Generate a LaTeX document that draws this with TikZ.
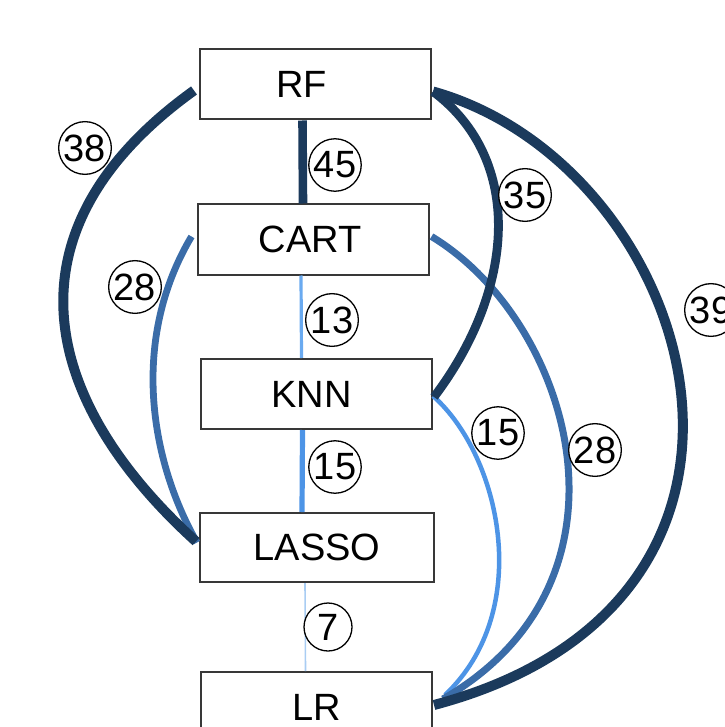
\documentclass[tikz,border=0pt]{standalone}
\usepackage{fontspec}
\setmainfont{Liberation Sans}
\definecolor{navy}{HTML}{1B3A5C}
\definecolor{midblue}{HTML}{3A6CA8}
\definecolor{skyblue}{HTML}{4D94E6}
\definecolor{paleblue}{HTML}{6AAAF0}
\definecolor{faintblue}{HTML}{A9CDF3}
\begin{document}
\begin{tikzpicture}[x=1pt,y=-1pt,
  model/.style={draw=black!78, line width=2pt, fill=white,
    minimum width=231pt, minimum height=70pt, inner sep=0pt,
    font=\fontsize{38}{40}\selectfont},
  weight/.style={draw=black, line width=1.3pt, circle, fill=white,
    inner sep=1pt, minimum size=48pt, font=\fontsize{38}{40}\selectfont},
  link/.style={line cap=butt}
]
\useasboundingbox (0,0) rectangle (724,727);

% model boxes (trailing space nudges a label left of the box centre)
\node[model] (RF)    at (315.5,84.5) {RF\hspace*{28pt}};
\node[model] (CART)  at (313,239.5)  {CART\hspace*{6pt}};
\node[model] (KNN)   at (316.5,394)  {KNN\hspace*{10pt}};
\node[model, minimum width=234pt, minimum height=69pt] (LASSO) at (317,547.5) {LASSO};
\node[model] (LR)    at (316.5,707)  {LR};

% links between neighbouring boxes
\draw[link, faintblue, line width=1.6pt] ([xshift=-12pt]LASSO.south) -- ([xshift=-11pt]LR.north);
\draw[link, paleblue, line width=3.2pt] ([xshift=-12pt]CART.south) -- ([xshift=-15pt]KNN.north);
\draw[link, skyblue, line width=5.2pt] ([xshift=-14pt]KNN.south) -- ([xshift=-15pt]LASSO.north);
\draw[link, navy, line width=8.6pt] ([xshift=-13pt]RF.south) -- ([xshift=-10pt]CART.north);

% curved links
\draw[link, skyblue, line width=4.5pt] ([yshift=-2pt]KNN.east)
  .. controls (500,455) and (535,610) .. ([xshift=12pt,yshift=12pt]LR.east);
\draw[link, midblue, line width=7pt] ([xshift=2pt,yshift=3pt]CART.east)
  .. controls (570,320) and (650,580) .. ([xshift=10pt,yshift=8pt]LR.east);
\draw[link, midblue, line width=6.8pt] ([xshift=-5pt,yshift=3pt]CART.west)
  .. controls (130,340) and (150,460) .. ([xshift=-2pt,yshift=5pt]LASSO.west);
\draw[link, navy, line width=10pt] ([xshift=-5pt,yshift=-6pt]RF.west)
  .. controls (0,230) and (40,400) .. ([xshift=-3pt,yshift=6pt]LASSO.west);
\draw[link, navy, line width=8.8pt] ([xshift=1pt,yshift=-7pt]RF.east)
  .. controls (525,160) and (515,290) .. ([xshift=1pt,yshift=-3pt]KNN.east);
\draw[link, navy, line width=10pt] ([xshift=1pt,yshift=-7pt]RF.east)
  .. controls (695,165) and (830,600) .. ([xshift=1pt,yshift=2pt]LR.east);

% link weights
\node[weight] (w45) at (335,165) {45};
\node[weight] (w13) at (332,320) {13};
\node[weight] (w15a) at (335,467) {15};
\node[weight] (w7) at (328,627) {7};
\node[weight] (w38) at (85,148) {38};
\node[weight] (w28a) at (135,287) {28};
\node[weight] (w35) at (525,195) {35};
\node[weight] (w39) at (711,310) {39};
\node[weight] (w15b) at (498,433) {15};
\node[weight] (w28b) at (595,450) {28};
\end{tikzpicture}
\end{document}
